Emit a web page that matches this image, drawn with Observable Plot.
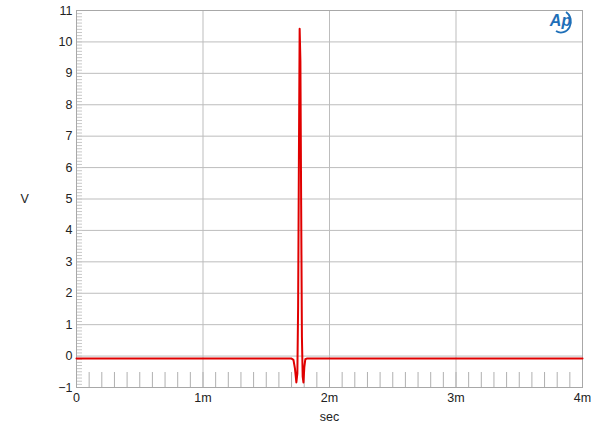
<!DOCTYPE html>
<html>
<head>
<meta charset="utf-8">
<script src="https://cdn.jsdelivr.net/npm/d3@7"></script>
<script src="https://cdn.jsdelivr.net/npm/@observablehq/plot@0.6"></script>
<style>
  html, body { margin: 0; padding: 0; background: #fff; }
  #chart { width: 600px; height: 434px; }
</style>
</head>
<body>
<div id="chart"></div>
<script>
// time in ms (axis labelled with "m" suffix), voltage in V
const timeMs = [0, 1.700, 1.715, 1.727, 1.738, 1.746, 1.752, 1.758, 1.764, 1.770, 1.776, 1.782, 1.788, 1.794, 1.801, 1.809, 1.820, 4.0];
const volts  = [-0.08, -0.08, -0.12, -0.40, -0.84, -0.55, 1.6, 6.2, 10.42, 9.4, 4.8, 0.6, -0.65, -0.84, -0.35, -0.10, -0.08, -0.08];

const xTicks = [0, 1, 2, 3, 4];
const xTickLabels = ["0", "1m", "2m", "3m", "4m"];
const yTicks = [-1, 0, 1, 2, 3, 4, 5, 6, 7, 8, 9, 10, 11];
const xMinor = d3.range(0, 40).map(i => i / 10);
const yMinor = d3.range(-10, 111).map(i => i / 10);

const data = timeMs.map((t, i) => ({t, v: volts[i]}));

const W = 600, H = 434;
const mL = 76, mR = 18, mT = 10, mB = 47;
const plotW = W - mL - mR, plotH = H - mT - mB;

const chart = Plot.plot({
  width: W,
  height: H,
  marginLeft: mL,
  marginRight: mR,
  marginTop: mT,
  marginBottom: mB,
  style: {fontFamily: "'Liberation Sans', Arial, sans-serif", fontSize: "12px", color: "#222", background: "#fff"},
  x: {domain: [0, 4]},
  y: {domain: [-1, 11]},
  marks: [
    Plot.gridX(xTicks, {stroke: "#bdbdbd", strokeOpacity: 1}),
    Plot.gridY(yTicks, {stroke: "#bdbdbd", strokeOpacity: 1}),
    Plot.tickX(xMinor, {x: d => d, insetTop: plotH - 15, stroke: "#b0b0b0"}),
    Plot.tickY(yMinor, {y: d => d, insetRight: plotW - 6, stroke: "#c8c8c8"}),
    Plot.frame({stroke: "#a8a8a8"}),
    Plot.axisX(xTicks, {tickSize: 0, tickPadding: 6, tickFormat: (d, i) => xTickLabels[i], label: null, fontSize: 12.5}),
    Plot.axisY(yTicks, {tickSize: 0, tickPadding: 4, label: null, fontSize: 12.5}),
    Plot.line(data, {x: "t", y: "v", stroke: "#e00000", strokeWidth: 2, curve: "linear"}),
    Plot.text(["V"], {frameAnchor: "left", dx: -56, fontSize: 12.5}),
    Plot.text(["sec"], {frameAnchor: "bottom", dy: 33, fontSize: 12.5}),
    Plot.text(["Ap"], {frameAnchor: "top-right", dx: -22, dy: 10, textAnchor: "middle", lineAnchor: "middle",
      fill: "#1e6fb8", fontStyle: "italic", fontWeight: "bold", fontSize: 16, fontFamily: "'Liberation Sans', Arial, sans-serif"})
  ]
});

// swoosh arc of the logo
d3.select(chart).append("path")
  .attr("d", "M 566 12 A 9 10 0 0 1 556 31")
  .attr("fill", "none")
  .attr("stroke", "#1e6fb8")
  .attr("stroke-width", 1.8);

document.getElementById("chart").appendChild(chart);
</script>
</body>
</html>
